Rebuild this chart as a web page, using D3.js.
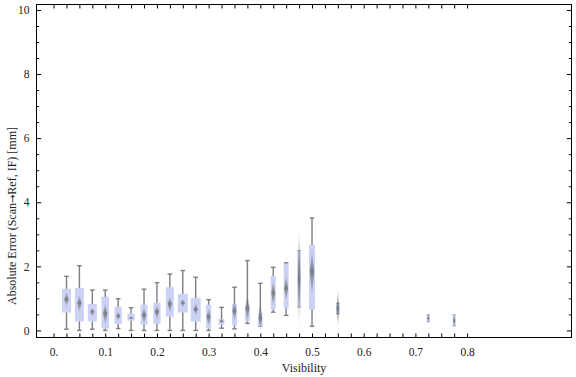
<!DOCTYPE html>
<html>
<head>
<meta charset="utf-8">
<script src="https://cdn.jsdelivr.net/npm/d3@7"></script>
<style>
  body { margin: 0; background: #fff; }
  svg text { font-family: "Liberation Serif", "DejaVu Serif", serif; fill: #222; }
</style>
</head>
<body>
<div id="wrapper"></div>
<script>
// visibility bins and the box-whisker statistics
const visibility = [0.025, 0.05, 0.075, 0.1, 0.125, 0.15, 0.175, 0.2, 0.225, 0.25, 0.275, 0.3,
  0.325, 0.35, 0.375, 0.4, 0.425, 0.45, 0.475, 0.5, 0.55, 0.725, 0.775]
const whiskerLo = [0.04, 0.0, 0.04, 0.0, 0.06, 0.0, 0.0, 0.0, 0.0, 0.0, 0.0, 0.0,
  0.07, 0.05, 0.22, 0.14, 0.57, 0.47, 0.74, 0.13, 0.53, 0.28, 0.15]
const quart1 = [0.56, 0.28, 0.28, 0.06, 0.20, 0.31, 0.18, 0.21, 0.43, 0.56, 0.28, 0.06,
  0.18, 0.16, 0.28, 0.14, 0.65, 0.68, 0.74, 0.65, 0.53, 0.28, 0.15]
const median = [0.97, 0.85, 0.58, 0.54, 0.45, 0.39, 0.48, 0.59, 0.83, 0.86, 0.66, 0.43,
  0.29, 0.61, 0.69, 0.38, 1.16, 1.32, 1.63, 1.84, 0.68, 0.38, 0.30]
const quart3 = [1.30, 1.33, 0.83, 1.05, 0.73, 0.52, 0.80, 0.86, 1.35, 1.14, 1.01, 0.80,
  0.36, 0.83, 0.77, 0.55, 1.70, 2.08, 2.48, 2.67, 0.84, 0.48, 0.48]
const whiskerHi = [1.69, 2.02, 1.26, 1.26, 0.99, 0.71, 1.29, 1.49, 1.76, 1.87, 1.66, 0.96,
  0.72, 1.35, 2.18, 1.47, 1.97, 2.11, 2.48, 3.51, 0.84, 0.48, 0.48]
// extent of the grey density marker around the median
const spreadLo = [0.74, 0.56, 0.43, 0.17, 0.31, 0.33, 0.20, 0.33, 0.54, 0.72, 0.46, 0.12,
  0.22, 0.28, 0.25, 0.0, 0.74, 0.90, 0.09, 1.06, 0.09, 0.25, 0.10]
const spreadHi = [1.21, 1.11, 0.72, 0.85, 0.59, 0.45, 0.74, 0.80, 1.06, 1.00, 0.85, 0.69,
  0.37, 0.95, 1.20, 0.97, 1.58, 1.73, 3.30, 2.52, 1.32, 0.53, 0.52]
// relative sample weight of each bin (box width)
const binWeight = [0.9, 0.9, 0.9, 0.75, 0.72, 0.72, 0.7, 0.72, 0.8, 1.0, 1.0, 0.52,
  0.58, 0.5, 0.5, 0.45, 0.5, 0.5, 0.36, 0.6, 0.36, 0.3, 0.3]

const xMajorTicks = [0, 0.1, 0.2, 0.3, 0.4, 0.5, 0.6, 0.7, 0.8]
const xTickLabels = ["0.", "0.1", "0.2", "0.3", "0.4", "0.5", "0.6", "0.7", "0.8"]
const yMajorTicks = [0, 2, 4, 6, 8, 10]
const yTickLabels = ["0", "2", "4", "6", "8", "10"]

const xMinorTicks = d3.range(0, 33).map(i => i * 0.025)
const yMinorTicks = d3.range(0, 21).map(i => i * 0.5)

let dimensions = {
  width: 576,
  height: 377,
  margin: { top: 4.5, right: 4.5, bottom: 39.5, left: 36.5 },
}
dimensions.boundedWidth = dimensions.width - dimensions.margin.left - dimensions.margin.right
dimensions.boundedHeight = dimensions.height - dimensions.margin.top - dimensions.margin.bottom

const data = visibility.map((v, i) => ({
  v, lo: whiskerLo[i], q1: quart1[i], med: median[i], q3: quart3[i], hi: whiskerHi[i],
  sLo: spreadLo[i], sHi: spreadHi[i], w: binWeight[i],
}))

const xScale = d3.scaleLinear()
  .domain([-0.033, 1.002])
  .range([0, dimensions.boundedWidth])

const yScale = d3.scaleLinear()
  .domain([-0.22, 10.17])
  .range([dimensions.boundedHeight, 0])

const widthScale = d3.scaleLinear().domain([0, 1]).range([0, 10])

const wrapper = d3.select("#wrapper")
  .append("svg")
    .attr("width", dimensions.width)
    .attr("height", dimensions.height)

const defs = wrapper.append("defs")
defs.append("filter").attr("id", "soft")
  .attr("x", "-50%").attr("y", "-10%").attr("width", "200%").attr("height", "120%")
  .append("feGaussianBlur").attr("stdDeviation", 0.45)

const bounds = wrapper.append("g")
  .attr("transform", `translate(${dimensions.margin.left},${dimensions.margin.top})`)

// whiskers
const whiskerColor = "#7f7f7f"
const boxes = bounds.append("g").selectAll("g")
  .data(data)
  .join("g")

boxes.append("line")
  .attr("x1", d => xScale(d.v)).attr("x2", d => xScale(d.v))
  .attr("y1", d => yScale(d.lo)).attr("y2", d => yScale(d.hi))
  .attr("stroke", whiskerColor).attr("stroke-width", 1.4)

boxes.selectAll(".cap")
  .data(d => [{ d, val: d.lo }, { d, val: d.hi }])
  .join("line")
    .attr("class", "cap")
    .attr("x1", c => xScale(c.d.v) - Math.min(2.3, widthScale(c.d.w) / 2))
    .attr("x2", c => xScale(c.d.v) + Math.min(2.3, widthScale(c.d.w) / 2))
    .attr("y1", c => yScale(c.val)).attr("y2", c => yScale(c.val))
    .attr("stroke", whiskerColor).attr("stroke-width", 1.4)

// boxes
boxes.append("rect")
  .attr("x", d => xScale(d.v) - widthScale(d.w) / 2)
  .attr("width", d => widthScale(d.w))
  .attr("y", d => yScale(d.q3))
  .attr("height", d => Math.max(1, yScale(d.q1) - yScale(d.q3)))
  .attr("fill", "#cbd2f6")

// density marker (grey diamond fading at the ends)
data.forEach((d, i) => {
  const g = defs.append("linearGradient")
    .attr("id", "grad" + i)
    .attr("x1", 0).attr("x2", 0).attr("y1", 0).attr("y2", 1)
  const off = (d.sHi - d.med) / (d.sHi - d.sLo)
  g.append("stop").attr("offset", 0).attr("stop-color", "#747474").attr("stop-opacity", 0.08)
  g.append("stop").attr("offset", off).attr("stop-color", "#747474").attr("stop-opacity", 0.9)
  g.append("stop").attr("offset", 1).attr("stop-color", "#747474").attr("stop-opacity", 0.08)
})

boxes.append("path")
  .attr("d", d => {
    const cx = xScale(d.v)
    const hw = Math.min(2.1, widthScale(d.w) * 0.38)
    return `M${cx},${yScale(d.sHi)} L${cx + hw},${yScale(d.med)} L${cx},${yScale(d.sLo)} L${cx - hw},${yScale(d.med)} Z`
  })
  .attr("fill", (d, i) => `url(#grad${i})`)
  .attr("filter", "url(#soft)")

// frame with inward ticks on all sides
const axisStyle = g => {
  g.select(".domain").remove()
  g.selectAll(".tick line").attr("stroke", "#000").attr("stroke-width", 1)
  g.selectAll("text").attr("font-size", 11.5)
}

bounds.append("g")
  .attr("transform", `translate(0,${dimensions.boundedHeight})`)
  .call(d3.axisBottom(xScale).tickValues(xMinorTicks).tickSizeInner(-4).tickSizeOuter(0).tickFormat(""))
  .call(axisStyle)

bounds.append("g")
  .attr("transform", `translate(0,${dimensions.boundedHeight})`)
  .call(d3.axisBottom(xScale).tickValues(xMajorTicks).tickSizeInner(0).tickSizeOuter(0)
    .tickPadding(10).tickFormat((d, i) => xTickLabels[i]))
  .call(axisStyle)

bounds.append("g")
  .call(d3.axisTop(xScale).tickValues(xMinorTicks).tickSizeInner(-4).tickSizeOuter(0).tickFormat(""))
  .call(axisStyle)

bounds.append("g")
  .call(d3.axisLeft(yScale).tickValues(yMinorTicks.filter(t => t % 2 !== 0)).tickSizeInner(-2.7).tickSizeOuter(0).tickFormat(""))
  .call(axisStyle)

bounds.append("g")
  .call(d3.axisLeft(yScale).tickValues(yMajorTicks).tickSizeInner(-4.7).tickSizeOuter(0)
    .tickPadding(7).tickFormat((d, i) => yTickLabels[i]))
  .call(axisStyle)

bounds.append("g")
  .attr("transform", `translate(${dimensions.boundedWidth},0)`)
  .call(d3.axisRight(yScale).tickValues(yMinorTicks.filter(t => t % 2 !== 0)).tickSizeInner(-2.7).tickSizeOuter(0).tickFormat(""))
  .call(axisStyle)

bounds.append("g")
  .attr("transform", `translate(${dimensions.boundedWidth},0)`)
  .call(d3.axisRight(yScale).tickValues(yMajorTicks).tickSizeInner(-4.7).tickSizeOuter(0).tickFormat(""))
  .call(axisStyle)

bounds.append("rect")
  .attr("width", dimensions.boundedWidth)
  .attr("height", dimensions.boundedHeight)
  .attr("fill", "none")
  .attr("stroke", "#000")
  .attr("stroke-width", 1)

// axis titles
wrapper.append("text")
  .attr("x", dimensions.margin.left + dimensions.boundedWidth / 2)
  .attr("y", 372)
  .attr("text-anchor", "middle")
  .attr("font-size", 12)
  .text("Visibility")

const yTitle = wrapper.append("text")
  .attr("transform", "translate(16,216) rotate(-90)")
  .attr("text-anchor", "middle")
  .attr("font-size", 12)
yTitle.append("tspan").text("Absolute Error (Scan")
yTitle.append("tspan").attr("font-family", "DejaVu Sans").attr("font-size", 10).text("→")
yTitle.append("tspan").text("Ref, IF) [mm]")
</script>
</body>
</html>
